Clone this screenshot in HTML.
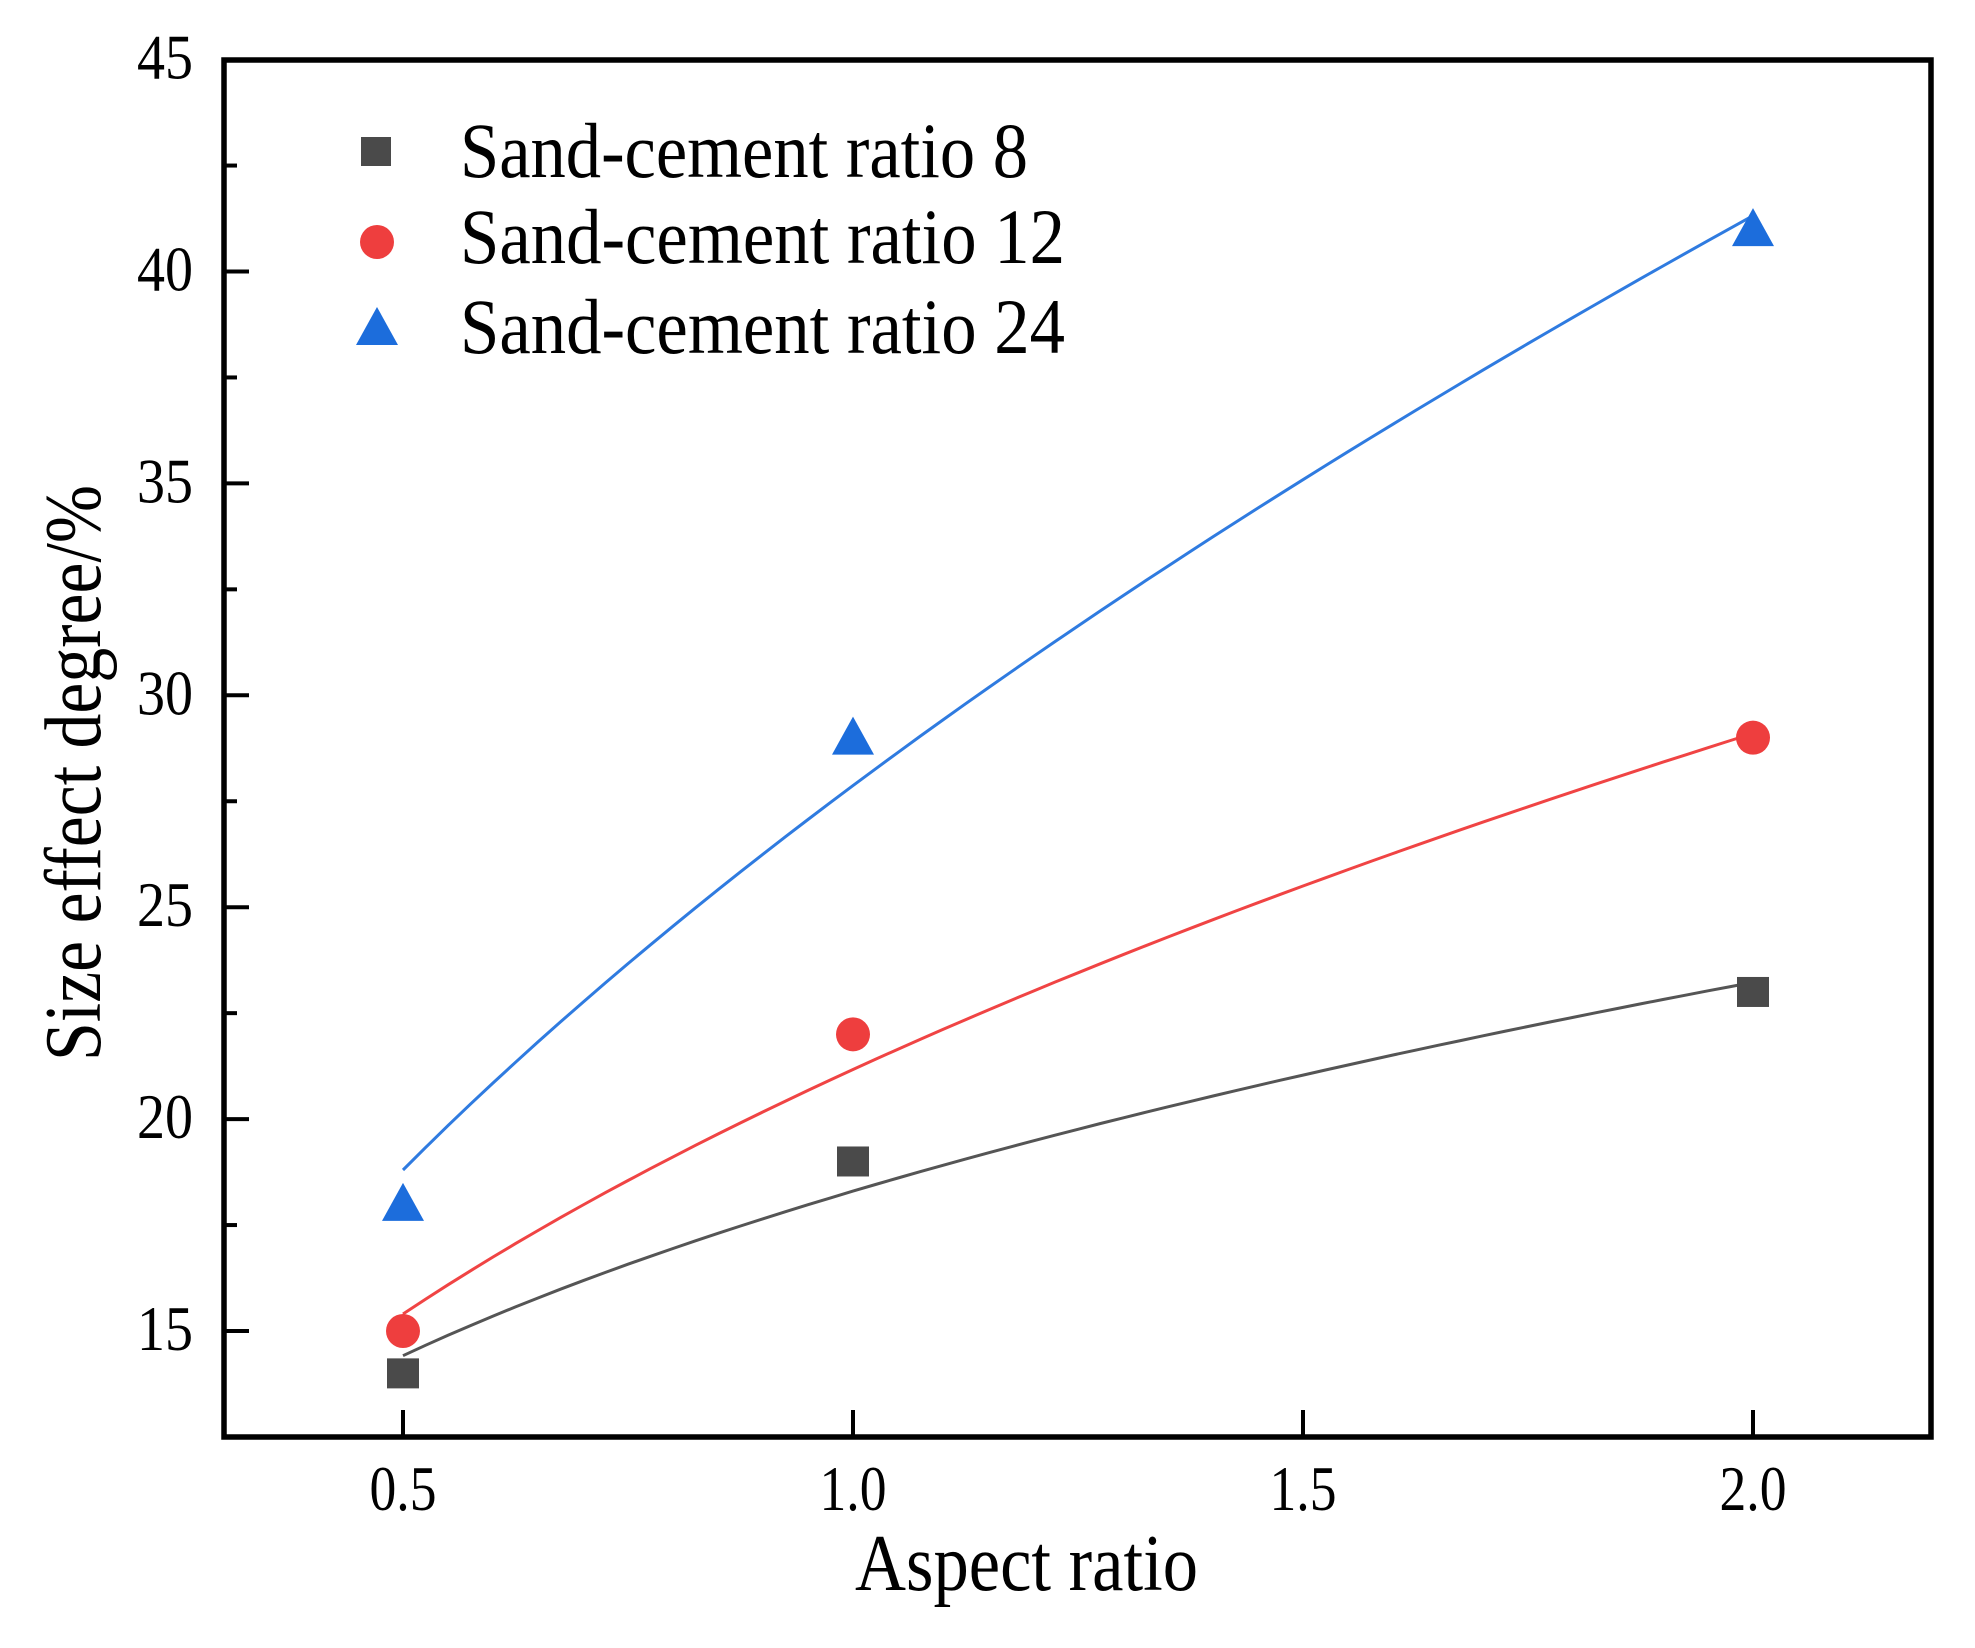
<!DOCTYPE html>
<html><head><meta charset="utf-8"><style>
html,body{margin:0;padding:0;background:#fff;}
svg{display:block;}
text{font-family:"Liberation Serif",serif;fill:#000;}
</style></head><body>
<svg id="s" width="1975" height="1648" viewBox="0 0 1975 1648" xmlns="http://www.w3.org/2000/svg">
<rect width="1975" height="1648" fill="#fff"/>
<g id="ticks"></g>
<rect x="224" y="60" width="1707" height="1377" fill="none" stroke="#000" stroke-width="5.5"/>
<g id="lab" font-size="64"></g>
<text x="855" y="1590" font-size="80" textLength="343" lengthAdjust="spacingAndGlyphs">Aspect ratio</text>
<text transform="translate(100,773) rotate(-90)" text-anchor="middle" font-size="80" textLength="576" lengthAdjust="spacingAndGlyphs">Size effect degree/%</text>
<g id="curves" fill="none" stroke-width="3"></g>
<g id="marks"></g>
<rect x="361" y="137" width="30" height="29" fill="#4a4a4a"/>
<circle cx="377" cy="242" r="17" fill="#ee3e3e"/>
<polygon points="356,345 398,345 377,307" fill="#1c6ddc"/>
<text x="460" y="177" font-size="78" textLength="568" lengthAdjust="spacingAndGlyphs">Sand-cement ratio 8</text>
<text x="460" y="263" font-size="78" textLength="605" lengthAdjust="spacingAndGlyphs">Sand-cement ratio 12</text>
<text x="460" y="353" font-size="78" textLength="605" lengthAdjust="spacingAndGlyphs">Sand-cement ratio 24</text>
</svg>
<script>
var NS="http://www.w3.org/2000/svg";
function X(v){return 403+(v-0.5)*900;}
function Y(v){return 1331-(v-15)*42.38;}
function el(p,t,a,txt){var e=document.createElementNS(NS,t);for(var k in a)e.setAttribute(k,a[k]);if(txt)e.textContent=txt;document.getElementById(p).appendChild(e);}
for(var v=15;v<=45;v+=2.5){var maj=(v%5==0);el("ticks","line",{x1:224,x2:224+(maj?25:13),y1:Y(v),y2:Y(v),stroke:"#000","stroke-width":4});
 if(maj)el("lab","text",{x:193,y:Y(v)+19,"text-anchor":"end",textLength:56,lengthAdjust:"spacingAndGlyphs"},String(v));}
[0.5,1,1.5,2].forEach(function(v){el("ticks","line",{x1:X(v),x2:X(v),y1:1437,y2:1410,stroke:"#000","stroke-width":4});
 el("lab","text",{x:X(v),y:1510,"text-anchor":"middle",textLength:67,lengthAdjust:"spacingAndGlyphs"},v.toFixed(1));});
var S=[{a:18.3,b:0.344,c:"#555555",m:"#4a4a4a",d:[14,19,23],t:"sq"},
{a:21.17,b:0.459,c:"#f04444",m:"#ee3e3e",d:[15,22,29],t:"ci"},
{a:27.87,b:0.568,c:"#2f7be0",m:"#1c6ddc",d:[18,29,41],t:"tr"}];
S.forEach(function(s){var p="";for(var i=0;i<=60;i++){var x=0.5+1.5*i/60;p+=(i?"L":"M")+X(x).toFixed(1)+","+Y(s.a*Math.pow(x,s.b)).toFixed(1);}
 el("curves","path",{d:p,stroke:s.c});
 [0.5,1,2].forEach(function(x,j){var cx=X(x),cy=Y(s.d[j]);
  if(s.t=="sq")el("marks","rect",{x:cx-16,y:cy-15,width:32,height:30,fill:s.m});
  else if(s.t=="ci")el("marks","circle",{cx:cx,cy:cy,r:17,fill:s.m});
  else el("marks","polygon",{points:(cx-21)+","+(cy+17)+" "+(cx+21)+","+(cy+17)+" "+cx+","+(cy-21),fill:s.m});});});
</script>
</body></html>
